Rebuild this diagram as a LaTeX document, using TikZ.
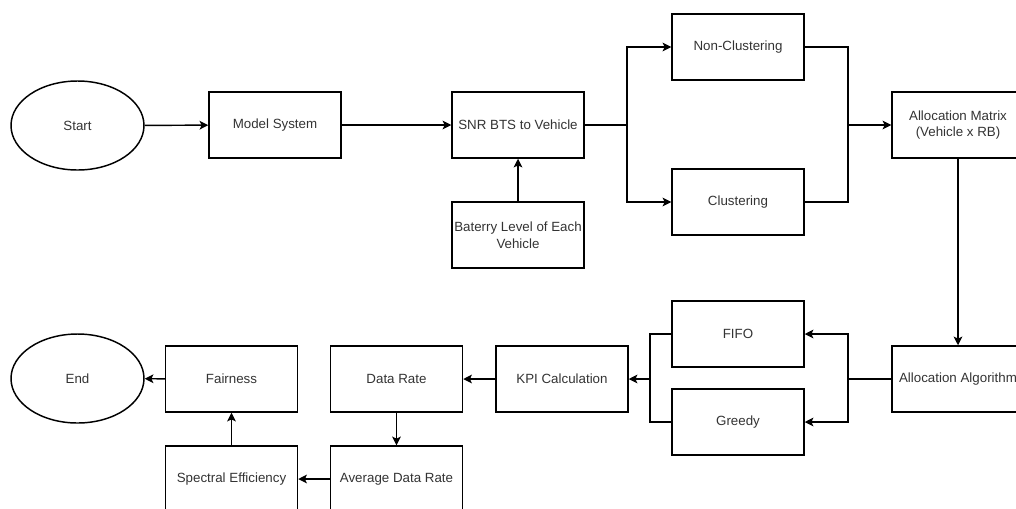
\documentclass[tikz,border=0pt]{standalone}
\usepackage{fontspec}
\setmainfont{Liberation Sans}
\usetikzlibrary{shapes.geometric,arrows.meta}

\begin{document}
\begin{tikzpicture}[x=0.75pt, y=-0.75pt, line width=1.1pt,
    every node/.style={font=\fontsize{10}{12.5}\selectfont, text=black!80, align=center},
    box/.style={draw, rectangle, minimum width=99pt, minimum height=49.5pt, inner sep=0pt},
    oval/.style={draw, ellipse, minimum width=99.75pt, minimum height=66.75pt, inner sep=0pt},
    arr/.style={-{Stealth[length=6.5pt, width=6.5pt, inset=1.5pt]}}]
\clip (0,0) rectangle (1016,508);
% Draw top row
\node[oval] (start) at (77.5,125.5) {Start};
\node[box] (model) at (275,125) {Model System};
\node[box] (snr) at (518,125) {SNR BTS to Vehicle};
\node[box] (battery) at (518,235) {Baterry Level of Each\\Vehicle};
\node[box] (noncl) at (738,47) {Non-Clustering};
\node[box] (clust) at (738,202) {Clustering};
\node[box] (matrix) at (958,125) {Allocation Matrix\\(Vehicle x RB)};
% Draw bottom rows
\node[box] (algo) at (958,379) {Allocation Algorithm};
\node[box] (fifo) at (738,334) {FIFO};
\node[box] (greedy) at (738,422) {Greedy};
\node[box] (kpi) at (562,379) {KPI Calculation};
\node[box] (datarate) at (396.5,379) {Data Rate};
\node[box] (fairness) at (231.5,379) {Fairness};
\node[oval] (end) at (77.5,378.5) {End};
\node[box] (avgrate) at (396.5,479) {Average Data Rate};
\node[box] (spectral) at (231.5,479) {Spectral Efficiency};
% Split and merge points
\coordinate (split1) at (627,125);
\coordinate (merge1) at (848,125);
\coordinate (split2) at (848,379);
\coordinate (merge2) at (650,379);
% Draw arrows
\draw[arr] (start) -- (model);
\draw[arr] (model) -- (snr);
\draw[arr] (battery) -- (snr);
\draw[arr] (snr) -- (split1) |- (noncl);
\draw[arr] (split1) |- (clust);
\draw (noncl) -| (merge1);
\draw (clust) -| (merge1);
\draw[arr] (merge1) -- (matrix);
\draw[arr] (matrix) -- (algo);
\draw[arr] (algo) -- (split2) |- (fifo);
\draw[arr] (split2) |- (greedy);
\draw (fifo) -| (merge2);
\draw (greedy) -| (merge2);
\draw[arr] (merge2) -- (kpi);
\draw[arr] (kpi) -- (datarate);
\draw[arr] (datarate) -- (avgrate);
\draw[arr] (avgrate) -- (spectral);
\draw[arr] (spectral) -- (fairness);
\draw[arr] (fairness) -- (end);
\end{tikzpicture}
\end{document}
